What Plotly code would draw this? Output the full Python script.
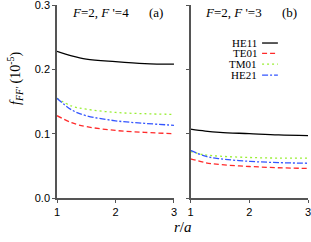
import plotly.graph_objects as go

r = [1.0, 1.25, 1.5, 2.0, 2.5, 3.0]

# panel (a): F=2, F'=4
a_HE11 = [0.228, 0.221, 0.216, 0.212, 0.209, 0.208]
a_TE01 = [0.128, 0.117, 0.111, 0.105, 0.102, 0.100]
a_TM01 = [0.155, 0.143, 0.138, 0.133, 0.131, 0.130]
a_HE21 = [0.155, 0.137, 0.128, 0.120, 0.116, 0.113]

# panel (b): F=2, F'=3
b_HE11 = [0.107, 0.104, 0.102, 0.100, 0.098, 0.097]
b_TE01 = [0.061, 0.055, 0.052, 0.049, 0.047, 0.046]
b_TM01 = [0.072, 0.067, 0.065, 0.063, 0.062, 0.062]
b_HE21 = [0.074, 0.065, 0.061, 0.057, 0.055, 0.054]

names = ["HE11", "TE01", "TM01", "HE21"]
styles = [("#000000", "solid"), ("#ff2a2a", "5px,3px"),
          ("#99ee33", "2px,3px"), ("#3355ff", "6px,2px,2px,2px")]

fig = go.Figure()
for ys, ax in [([a_HE11, a_TE01, a_TM01, a_HE21], ("x", "y")),
               ([b_HE11, b_TE01, b_TM01, b_HE21], ("x2", "y2"))]:
    for y, name, (c, d) in zip(ys, names, styles):
        fig.add_trace(go.Scatter(x=r, y=y, mode="lines", name=name,
                                 line=dict(color=c, dash=d, width=1.3, shape="spline"),
                                 xaxis=ax[0], yaxis=ax[1], showlegend=False))

axis_common = dict(showline=True, linecolor="#555555", linewidth=1.5,
                   ticks="outside", ticklen=3, tickcolor="#555555",
                   showgrid=False, zeroline=False, automargin=False,
                   ticklabeloverflow="allow",
                   tickfont=dict(family="Liberation Sans", size=11, color="#000"))

fig.update_layout(
    width=311, height=242,
    margin=dict(l=57, r=3, t=5, b=44),
    plot_bgcolor="white", paper_bgcolor="white",
    xaxis=dict(domain=[0, 0.466], range=[1, 3], tickvals=[1, 2, 3], anchor="y", **axis_common),
    xaxis2=dict(domain=[0.532, 1], range=[1, 3], tickvals=[1, 2, 3], anchor="y2", **axis_common),
    yaxis=dict(range=[0, 0.3], tickvals=[0, 0.1, 0.2, 0.3], tickformat=".1f", anchor="x",
               **axis_common),
    yaxis2=dict(range=[0, 0.3], tickvals=[0, 0.1, 0.2, 0.3], showticklabels=False, anchor="x2",
                **axis_common),
)

serif = dict(family="Liberation Serif, Times New Roman", size=13, color="#000")
ann = [
    dict(text="<i>F</i>=2, <i>F</i> '=4", xref="paper", yref="paper", x=0.05, y=0.96,
         xanchor="left", yanchor="middle", showarrow=False, font=serif),
    dict(text="(a)", xref="paper", yref="paper", x=0.36, y=0.96,
         xanchor="left", yanchor="middle", showarrow=False, font=serif),
    dict(text="<i>F</i>=2, <i>F</i> '=3", xref="paper", yref="paper", x=0.58, y=0.96,
         xanchor="left", yanchor="middle", showarrow=False, font=serif),
    dict(text="(b)", xref="paper", yref="paper", x=0.89, y=0.96,
         xanchor="left", yanchor="middle", showarrow=False, font=serif),
    dict(text="<i>r</i>/<i>a</i>", xref="paper", yref="paper", x=0.5, y=-0.15,
         xanchor="center", yanchor="middle", showarrow=False,
         font=dict(family="Liberation Serif, Times New Roman", size=15, color="#000")),
    dict(text="<i>f</i><sub><i>FF'</i></sub> (10<sup>-5</sup>)", xref="paper", yref="paper",
         x=-0.165, y=0.62, textangle=-90, xanchor="center", yanchor="middle", showarrow=False,
         font=dict(family="Liberation Serif, Times New Roman", size=14, color="#000")),
]
shapes = []
leg_y = [0.803, 0.749, 0.694, 0.637]
for name, (c, d), yy in zip(names, styles, leg_y):
    ann.append(dict(text=name, xref="paper", yref="paper", x=0.805, y=yy, xanchor="right",
                    yanchor="middle", showarrow=False,
                    font=dict(family="Liberation Serif, Times New Roman", size=11, color="#000")))
    shapes.append(dict(type="line", xref="paper", yref="paper", x0=0.817, x1=0.88, y0=yy, y1=yy,
                       line=dict(color=c, dash=d, width=1.3)))
fig.update_layout(annotations=ann, shapes=shapes)

fig.write_html("out.html", config={"displayModeBar": False},
               post_script="document.body.style.margin='0';")
